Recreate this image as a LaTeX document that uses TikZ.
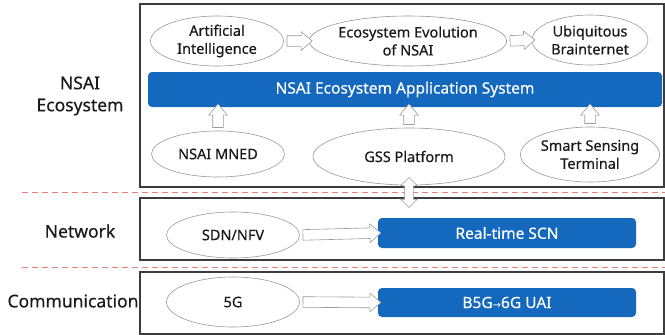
\documentclass[tikz,border=0pt]{standalone}
\usepackage{fontspec}
\setmainfont{Noto Sans}[FakeBold=0.4]
\newfontfamily\arrowfont{DejaVu Sans}
\usetikzlibrary{calc,shapes.geometric,shapes.arrows}
\definecolor{ink}{HTML}{1A1A1A}
\definecolor{edge}{HTML}{9A9A9A}
\definecolor{brand}{HTML}{1469BE}
\definecolor{rule}{HTML}{F07B7B}
\tikzset{
  frame/.style={draw=ink!85, line width=1.6pt},
  sep/.style={draw=rule, dash pattern=on 6pt off 4pt, line width=1pt},
  oval/.style={ellipse, draw=edge, line width=0.6pt, fill=white, inner sep=0pt, align=center, text=ink, font=\fontsize{14.5}{18}\selectfont},
  bar/.style={fill=brand, rounded corners=4pt, text=white, inner sep=0pt, font=\fontsize{15.5}{18}\selectfont},
  harr/.style={single arrow, draw=edge, fill=white, line width=0.6pt, inner xsep=0pt, inner ysep=5pt, single arrow head extend=4pt, single arrow tip angle=80},
  darr/.style={double arrow, draw=edge, fill=white, line width=0.6pt, inner xsep=0pt, inner ysep=4pt, double arrow head extend=4pt, double arrow tip angle=90},
  lab/.style={text=ink, align=center, font=\fontsize{17.5}{22}\selectfont},
}
\begin{document}
\begin{tikzpicture}[x=1pt,y=-1pt]
  \useasboundingbox (0,0) rectangle (665,335);
  % layer frames and separators
  \foreach \top/\bot in {4/187,198/260,272/334}
    \draw[frame] (140,\top) rectangle (664,\bot);
  \draw[sep] (22,192) -- (665,192);
  \draw[sep] (22,267) -- (665,267);
  % left labels
  \node[lab] (ecolab) at (80,96) {NSAI\\Ecosystem};
  \node[lab] (netlab) at (80,231) {Network};
  \node[lab] (comlab) at (73,301) {Communication};
  % NSAI ecosystem
  \node[oval, minimum width=133pt, minimum height=50pt] (ai) at (217,41) {Artificial\\Intelligence};
  \node[oval, minimum width=190pt, minimum height=50pt] (evo) at (408,41) {Ecosystem Evolution\\of NSAI};
  \node[oval, minimum width=116pt, minimum height=50pt] (ubi) at (590,40) {Ubiquitous\\Brainternet};
  \node[bar, minimum width=514pt, minimum height=35pt] (app) at (405,89.5) {NSAI Ecosystem Application System};
  \node[oval, minimum width=133pt, minimum height=46pt] (mned) at (218,154) {NSAI MNED};
  \node[oval, minimum width=192pt, minimum height=57pt] (gss) at (409,156.5) {GSS Platform};
  \node[oval, minimum width=116pt, minimum height=55pt] (sst) at (590,154.5) {Smart Sensing\\Terminal};
  % network and communication
  \node[oval, minimum width=133pt, minimum height=46pt] (sdn) at (233,235) {SDN/NFV};
  \node[bar, minimum width=258pt, minimum height=30pt] (scn) at (507,233) {Real-time SCN};
  \node[oval, minimum width=133pt, minimum height=50pt] (fiveg) at (233,302) {5G};
  \node[bar, minimum width=258pt, minimum height=29pt] (uai) at (507,302.5) {B5G{\arrowfont\fontsize{10}{10}\selectfont→}6G UAI};
  % block arrows
  \foreach \a/\b in {ai/evo,evo/ubi,sdn/scn,fiveg/uai}
    \path let \p1=($(\b.west)-(\a.east)$) in (\a.east) -- (\b.west)
      node[harr, midway, sloped, minimum height={veclen(\x1,\y1)}] {};
  \foreach \a in {mned,gss,sst}
    \path let \p1=($(app.south -| \a.north)-(\a.north)$) in (\a.north) -- (app.south -| \a.north)
      node[harr, midway, sloped, minimum height={veclen(\x1,\y1)}] {};
  \node[darr, rotate=90, minimum height=30pt] (link) at (409,192.5) {};
\end{tikzpicture}
\end{document}
